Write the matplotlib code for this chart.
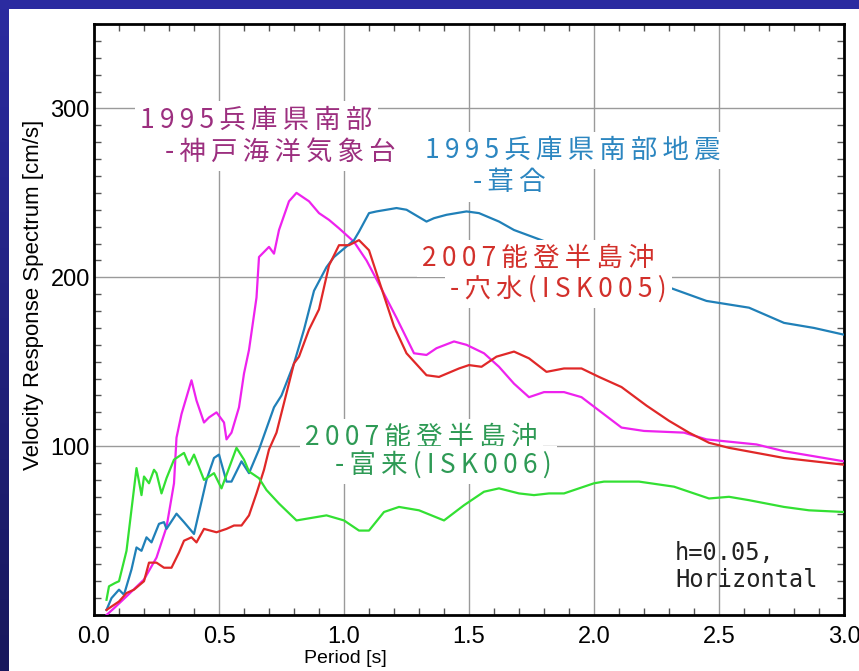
import matplotlib
matplotlib.use("Agg")
import matplotlib.pyplot as plt
import numpy as np
from matplotlib.patches import Rectangle
from matplotlib.ticker import MultipleLocator

# 速度応答スペクトル (h=0.05, 水平動)
t_kobe = [0.05, 0.08, 0.13, 0.20, 0.25, 0.29, 0.32, 0.33, 0.35, 0.39, 0.41, 0.44, 0.46, 0.49,
          0.52, 0.53, 0.55, 0.58, 0.60, 0.62, 0.65, 0.66, 0.70, 0.72, 0.74, 0.78, 0.81, 0.86,
          0.90, 0.94, 0.98, 1.04, 1.09, 1.14, 1.21, 1.28, 1.33, 1.37, 1.44, 1.49, 1.56, 1.62,
          1.68, 1.74, 1.80, 1.88, 1.95, 2.03, 2.11, 2.20, 2.36, 2.45, 2.65, 2.76, 3.00]
v_kobe = [0, 4, 11, 21, 34, 52, 78, 105, 119, 139, 127, 114, 117, 120,
          114, 104, 108, 123, 143, 157, 188, 212, 218, 214, 228, 245, 250, 245,
          238, 234, 229, 221, 210, 196, 176, 155, 154, 158, 162, 160, 155, 147,
          137, 129, 132, 132, 129, 120, 111, 109, 108, 104, 101, 97, 91]

t_fukiai = [0.05, 0.07, 0.10, 0.12, 0.15, 0.17, 0.19, 0.21, 0.23, 0.26, 0.28, 0.29, 0.33, 0.36,
            0.40, 0.45, 0.48, 0.50, 0.53, 0.55, 0.59, 0.62, 0.66, 0.72, 0.75, 0.80, 0.84, 0.88,
            0.93, 0.96, 1.00, 1.04, 1.06, 1.10, 1.13, 1.21, 1.25, 1.33, 1.36, 1.41, 1.49, 1.54,
            1.62, 1.68, 2.30, 2.45, 2.62, 2.76, 2.88, 3.00]
v_fukiai = [3, 10, 15, 12, 27, 40, 38, 46, 43, 54, 55, 51, 60, 55,
            48, 80, 93, 95, 79, 79, 91, 84, 98, 123, 130, 149, 169, 192,
            206, 212, 217, 222, 227, 238, 239, 241, 240, 233, 235, 237, 239, 238,
            233, 228, 194, 186, 182, 173, 170, 166]

t_anamizu = [0.05, 0.10, 0.13, 0.16, 0.20, 0.22, 0.25, 0.28, 0.31, 0.34, 0.36, 0.39, 0.41, 0.44,
             0.49, 0.53, 0.56, 0.59, 0.62, 0.65, 0.68, 0.70, 0.73, 0.80, 0.82, 0.86, 0.90, 0.94,
             0.98, 1.02, 1.06, 1.10, 1.14, 1.20, 1.25, 1.33, 1.38, 1.46, 1.50, 1.55, 1.61, 1.68,
             1.74, 1.81, 1.88, 1.95, 2.02, 2.11, 2.21, 2.30, 2.38, 2.46, 2.54, 2.65, 2.76, 3.00]
v_anamizu = [3, 8, 13, 15, 20, 31, 31, 28, 28, 37, 44, 46, 43, 51,
             49, 51, 53, 53, 59, 72, 86, 98, 108, 149, 153, 169, 181, 207,
             219, 219, 222, 216, 198, 171, 155, 142, 141, 146, 148, 147, 153, 156,
             152, 144, 146, 146, 141, 135, 124, 115, 108, 102, 99, 96, 93, 89]

t_togi = [0.05, 0.06, 0.085, 0.10, 0.13, 0.17, 0.19, 0.20, 0.22, 0.24, 0.25, 0.27, 0.29, 0.32,
          0.36, 0.38, 0.40, 0.44, 0.48, 0.51, 0.54, 0.57, 0.60, 0.62, 0.66, 0.69, 0.74, 0.81,
          0.93, 1.00, 1.06, 1.10, 1.16, 1.22, 1.30, 1.40, 1.48, 1.56, 1.62, 1.70, 1.76, 1.82,
          1.88, 2.00, 2.04, 2.10, 2.18, 2.32, 2.38, 2.46, 2.54, 2.62, 2.76, 2.86, 3.00]
v_togi = [9, 17, 19, 20, 38, 87, 71, 82, 78, 86, 84, 72, 81, 92,
          96, 89, 95, 80, 84, 75, 87, 99, 92, 85, 81, 74, 66, 56,
          59, 56, 50, 50, 61, 64, 62, 56, 65, 73, 75, 72, 71, 72,
          72, 78, 79, 79, 79, 76, 73, 69, 70, 68, 64, 62, 61]

# 地点名ラベル (2行)
label_kobe = ["1995兵庫県南部", "-神戸海洋気象台"]
label_fukiai = ["1995兵庫県南部地震", "-葺合"]
label_anamizu = ["2007能登半島沖", "-穴水(ISK005)"]
label_togi = ["2007能登半島沖", "-富来(ISK006)"]
note_lines = ["h=0.05,", "Horizontal"]

x_ticks = [0.0, 0.5, 1.0, 1.5, 2.0, 2.5, 3.0]
y_ticks = [100, 200, 300]

sans = ["Liberation Sans", "DejaVu Sans"]
jp_font = ["Noto Sans CJK JP", "DejaVu Sans"]

fig = plt.figure(figsize=(8.59, 6.71), dpi=100)
fig.patch.set_facecolor("white")

# 背景の青い枠 (左はグラデーション)
bg = fig.add_axes([0, 0, 1, 1], zorder=-10)
bg.set_xlim(0, 859)
bg.set_ylim(671, 0)
bg.axis("off")
grad = np.linspace(0, 1, 256).reshape(-1, 1)
top_rgb = np.array([0x2b, 0x2b, 0xa0]) / 255
bot_rgb = np.array([0x18, 0x18, 0x5c]) / 255
img = top_rgb[None, None, :] * (1 - grad[..., None]) + bot_rgb[None, None, :] * grad[..., None]
bg.imshow(img, extent=[0, 9, 671, 0], aspect="auto", interpolation="bilinear")
bg.add_patch(Rectangle((0, 0), 859, 9, facecolor="#2b2ba0", edgecolor="none"))

ax = fig.add_axes([94 / 859, 1 - 615 / 671, 750 / 859, 591 / 671])
ax.set_xlim(0, 3.0)
ax.set_ylim(0, 350)

ax.plot(t_kobe, v_kobe, color="#ee22ee", lw=1.6, zorder=3)
ax.plot(t_fukiai, v_fukiai, color="#2080b8", lw=1.6, zorder=3)
ax.plot(t_anamizu, v_anamizu, color="#e02828", lw=1.6, zorder=3)
ax.plot(t_togi, v_togi, color="#33e033", lw=1.6, zorder=3)

ax.set_xticks(x_ticks)
ax.set_xticklabels([f"{x:.1f}" for x in x_ticks], fontsize=17, family=sans)
ax.set_yticks(y_ticks)
ax.set_yticklabels([str(y) for y in y_ticks], fontsize=17, family=sans)
ax.xaxis.set_minor_locator(MultipleLocator(0.1))
ax.yaxis.set_minor_locator(MultipleLocator(10))
ax.tick_params(which="both", direction="in", top=True, right=True, width=1, color="#555555")
ax.tick_params(which="major", length=0)
ax.tick_params(axis="x", which="major", pad=8)
ax.tick_params(axis="y", which="major", pad=3)
ax.tick_params(which="minor", length=5)
ax.grid(True, which="major", color="#9a9a9a", lw=1)
for sp in ax.spines.values():
    sp.set_linewidth(2)
    sp.set_color("black")

ax.text(0.335, -0.073, "Period [s]", transform=ax.transAxes, ha="center", va="center",
        fontsize=14, family=sans)
fig.text(34 / 859, 1 - 295 / 671, "Velocity Response Spectrum [cm/s]", rotation=90,
         ha="center", va="center", fontsize=16, family=sans)

box = dict(boxstyle="square,pad=0.2", facecolor="white", edgecolor="none")


def put_label(lines, positions, color):
    # 文字間を少し空けて描く
    for text, (x, y) in zip(lines, positions):
        ax.text(x, y, "\u2009".join(text), color=color, fontsize=19, family=jp_font,
                ha="left", va="center", bbox=box, zorder=4)


put_label(label_kobe, [(0.184, 293), (0.284, 274)], "#9c2f7f")
put_label(label_fukiai, [(1.324, 275), (1.516, 256)], "#2c86c0")
put_label(label_anamizu, [(1.312, 211), (1.424, 193)], "#d2302b")
put_label(label_togi, [(0.844, 105), (0.964, 89)], "#2e9a55")

for text, y in zip(note_lines, [37, 21]):
    ax.text(2.324, y, text, fontsize=17, family=["DejaVu Sans Mono"], color="#222222",
            ha="left", va="center", zorder=4)

fig.savefig("out.png", dpi=100, facecolor=fig.get_facecolor())
